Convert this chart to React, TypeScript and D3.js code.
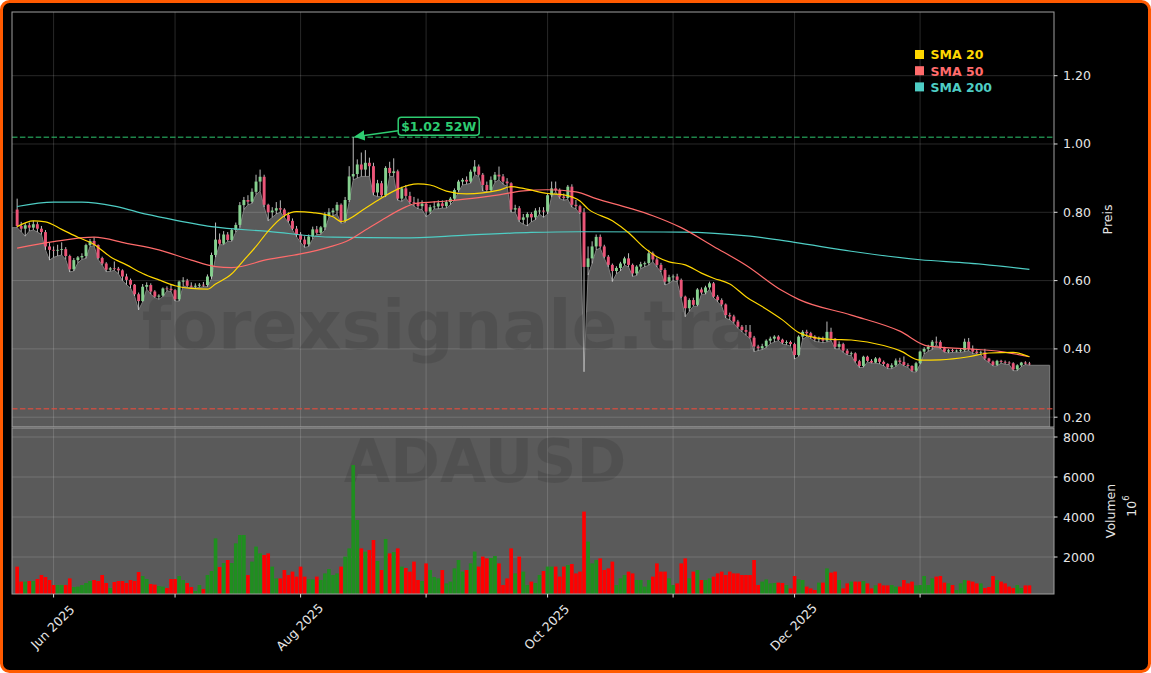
import React from "react";
import * as d3 from "d3";

// ---------- DATA ----------
const FIRST_DAY = Date.UTC(2025, 4, 23); // first daily candle
const FILL_END_DAY = Date.UTC(2026, 1, 2);
const X_START = Date.UTC(2025, 4, 21, 17, 30);
const X_END = Date.UTC(2026, 1, 3, 1, 40);

const OPEN = [
  .808,.760,.752,.762,.755,.765,.752,.742,.700,.690,
  .688,.690,.692,.672,.633,.660,.668,.672,.704,.716,
  .704,.666,.650,.632,.636,.635,.630,.612,.602,.588,
  .560,.540,.582,.587,.568,.553,.556,.577,.576,.572,
  .545,.597,.600,.585,.582,.585,.588,.587,.612,.675,
  .720,.708,.735,.719,.748,.763,.821,.836,.831,.860,
  .890,.904,.822,.800,.805,.812,.808,.792,.775,.752,
  .735,.720,.706,.729,.750,.740,.756,.792,.800,.805,
  .822,.775,.836,.905,.912,.940,.925,.945,.935,.858,
  .885,.850,.930,.915,.920,.840,.870,.848,.830,.828,
  .818,.825,.802,.815,.817,.826,.818,.830,.840,.865,
  .890,.895,.890,.919,.934,.910,.880,.865,.895,.910,
  .905,.890,.885,.808,.812,.778,.785,.795,.785,.805,
  .805,.802,.850,.870,.865,.846,.842,.875,.822,.818,
  .800,.640,.665,.700,.728,.700,.670,.646,.628,.637,
  .650,.665,.646,.621,.641,.648,.651,.680,.662,.646,
  .631,.597,.610,.612,.602,.553,.519,.543,.529,.574,
  .565,.580,.592,.553,.543,.530,.499,.495,.480,.465,
  .455,.450,.433,.407,.402,.408,.424,.430,.436,.427,
  .418,.420,.414,.382,.436,.450,.446,.436,.428,.430,
  .424,.450,.430,.406,.414,.395,.386,.387,.364,.350,
  .377,.365,.360,.372,.362,.356,.346,.352,.366,.362,
  .353,.350,.336,.358,.392,.400,.406,.421,.420,.402,
  .392,.396,.394,.395,.396,.421,.400,.392,.388,.390,
  .372,.363,.353,.365,.362,.360,.358,.340,.352,.360,
  .357,
];
const HIGH = [
  .840,.772,.768,.770,.775,.772,.760,.748,.712,.700,
  .705,.712,.698,.676,.666,.672,.680,.708,.722,.727,
  .706,.670,.654,.640,.656,.640,.633,.620,.606,.590,
  .565,.590,.595,.592,.572,.560,.580,.583,.588,.575,
  .600,.610,.605,.595,.592,.593,.596,.618,.682,.770,
  .738,.745,.742,.752,.770,.830,.845,.850,.870,.910,
  .925,.910,.825,.815,.830,.835,.812,.800,.782,.760,
  .742,.730,.735,.758,.760,.760,.800,.812,.812,.830,
  .826,.845,.935,1.020,.955,.975,.982,.960,.945,.895,
  .892,.935,.948,.958,.925,.875,.880,.860,.845,.840,
  .835,.830,.822,.832,.835,.835,.836,.845,.870,.895,
  .900,.905,.925,.953,.940,.915,.890,.905,.918,.934,
  .912,.900,.888,.822,.818,.795,.800,.800,.812,.815,
  .815,.856,.890,.890,.870,.855,.880,.882,.836,.822,
  .812,.700,.715,.735,.735,.705,.675,.650,.642,.655,
  .670,.680,.650,.645,.655,.656,.690,.685,.668,.652,
  .636,.617,.618,.620,.606,.556,.548,.550,.578,.580,
  .585,.597,.596,.558,.548,.533,.506,.500,.485,.470,
  .470,.470,.438,.412,.415,.428,.436,.440,.440,.430,
  .425,.424,.418,.440,.455,.456,.450,.440,.436,.436,
  .480,.462,.432,.422,.418,.400,.392,.390,.368,.380,
  .380,.370,.376,.375,.366,.358,.358,.372,.374,.378,
  .358,.352,.362,.395,.405,.412,.426,.436,.425,.406,
  .400,.400,.398,.400,.430,.432,.410,.400,.395,.400,
  .374,.366,.368,.368,.366,.364,.361,.355,.362,.364,
  .362,
];
const LOW = [
  .755,.743,.730,.745,.748,.742,.735,.690,.660,.668,
  .672,.675,.662,.625,.628,.652,.662,.665,.700,.702,
  .662,.645,.626,.627,.630,.620,.600,.588,.578,.555,
  .514,.538,.575,.560,.550,.545,.553,.570,.568,.540,
  .540,.585,.580,.580,.578,.580,.582,.582,.605,.668,
  .705,.705,.715,.715,.742,.755,.808,.822,.826,.852,
  .862,.815,.775,.785,.795,.800,.785,.770,.748,.728,
  .712,.697,.700,.722,.735,.735,.748,.785,.790,.795,
  .768,.770,.830,.895,.900,.905,.905,.905,.850,.846,
  .845,.845,.905,.905,.835,.832,.842,.825,.818,.810,
  .808,.787,.795,.810,.810,.812,.812,.822,.835,.860,
  .880,.882,.885,.910,.905,.862,.860,.860,.888,.895,
  .882,.876,.800,.800,.772,.765,.760,.772,.778,.795,
  .785,.795,.845,.860,.840,.835,.838,.815,.810,.795,
  .333,.616,.650,.690,.695,.665,.640,.597,.620,.628,
  .645,.640,.612,.615,.635,.640,.645,.655,.640,.625,
  .587,.592,.600,.596,.548,.494,.510,.525,.525,.560,
  .560,.575,.550,.538,.525,.490,.485,.475,.460,.450,
  .440,.430,.392,.395,.398,.404,.415,.420,.424,.414,
  .412,.408,.370,.378,.428,.436,.430,.422,.420,.418,
  .420,.425,.400,.400,.390,.382,.380,.360,.345,.346,
  .362,.358,.358,.356,.350,.342,.342,.348,.358,.350,
  .346,.333,.332,.355,.385,.393,.398,.412,.400,.390,
  .388,.390,.390,.390,.392,.395,.386,.385,.383,.368,
  .360,.350,.350,.358,.355,.354,.336,.336,.348,.354,
  .352,
];
const CLOSE = [
  .760,.752,.762,.755,.765,.752,.742,.700,.690,.688,
  .690,.692,.672,.633,.660,.668,.672,.704,.716,.704,
  .666,.650,.632,.636,.635,.630,.612,.602,.588,.560,
  .540,.582,.587,.568,.553,.556,.577,.576,.572,.545,
  .597,.600,.585,.582,.585,.588,.587,.612,.675,.720,
  .708,.735,.719,.748,.763,.821,.836,.831,.860,.890,
  .904,.822,.800,.805,.812,.808,.792,.775,.752,.735,
  .720,.706,.729,.750,.740,.756,.792,.800,.805,.822,
  .775,.836,.905,.912,.940,.925,.945,.935,.858,.885,
  .850,.930,.915,.920,.840,.870,.848,.830,.828,.818,
  .825,.802,.815,.817,.826,.818,.830,.840,.865,.890,
  .895,.890,.919,.934,.910,.880,.865,.895,.910,.905,
  .890,.885,.808,.812,.778,.785,.795,.785,.805,.805,
  .802,.850,.870,.865,.846,.842,.875,.822,.818,.800,
  .640,.665,.700,.728,.700,.670,.646,.628,.637,.650,
  .665,.646,.621,.641,.648,.651,.680,.662,.646,.631,
  .597,.610,.612,.602,.553,.519,.543,.529,.574,.565,
  .580,.592,.553,.543,.530,.499,.495,.480,.465,.455,
  .450,.433,.407,.402,.408,.424,.430,.436,.427,.418,
  .420,.414,.382,.436,.450,.446,.436,.428,.430,.424,
  .450,.430,.406,.414,.395,.386,.387,.364,.350,.377,
  .365,.360,.372,.362,.356,.346,.352,.366,.362,.353,
  .350,.336,.358,.392,.400,.406,.421,.420,.402,.392,
  .396,.394,.395,.396,.421,.400,.392,.388,.390,.372,
  .363,.353,.365,.362,.360,.358,.340,.352,.360,.357,
  .356,
];
// volume in millions
const VOLUME = [
  1517,770,770,800,800,900,1100,1000,850,600,
  600,600,600,930,500,520,600,700,800,850,
  800,1100,700,450,750,800,800,700,850,800,
  1250,1050,900,650,620,550,520,450,900,900,
  1050,850,700,500,300,600,400,1100,1300,2930,
  1500,1700,1850,1700,2680,3100,3100,1100,1770,2520,
  2180,2100,2180,1520,930,930,1350,1100,1270,1020,
  1520,1020,880,880,1020,850,1180,1400,1100,1180,
  1520,2020,2430,6600,3850,2430,2267,2350,2850,1800,
  1350,2900,2180,2250,2430,1520,1450,1267,1770,850,
  800,1680,1350,1000,930,1350,680,770,1430,1850,
  1270,1350,1680,2270,1520,2020,1930,1950,2050,1680,
  600,930,2430,1180,2020,1270,600,770,700,1100,
  1300,1520,1520,1520,1020,1520,1600,1650,1180,1270,
  4270,2770,1680,1850,1930,1350,1430,1770,600,930,
  1100,1270,1180,850,850,520,850,1020,1680,1270,
  1270,930,600,680,1680,1930,930,1270,1350,850,
  850,930,1020,1180,1270,1100,1270,1180,1180,1100,
  1100,1100,1850,600,770,880,680,700,720,700,
  600,430,1050,880,850,520,430,350,720,720,
  1430,1220,1270,850,430,680,770,770,770,800,
  680,430,580,680,580,580,600,520,520,850,
  680,770,580,600,1050,600,930,1020,1050,720,
  680,600,350,680,850,820,770,680,680,450,
  500,1050,850,770,680,520,450,600,450,580,
  580,
];

// moving averages (day offset from FIRST_DAY, value)
const SMA20_DAY = [0,4,7,11,15,19,23,27,31,35,39,43,47,49,53,56,59,62,66,69,73,78,80,86,90,94,99,102,106,111,115,119,122,125,131,135,139,141,147,151,155,158,161,165,169,172,176,180,184,189,193,197,201,206,214,218,223,228,235,240,246,250];
const SMA20_VAL = [.758,.775,.772,.750,.727,.706,.670,.646,.621,.602,.585,.577,.575,.590,.620,.660,.700,.745,.790,.802,.799,.787,.773,.812,.842,.868,.883,.880,.862,.854,.857,.865,.875,.870,.855,.851,.833,.810,.775,.740,.695,.670,.655,.646,.622,.607,.590,.553,.524,.485,.448,.433,.428,.426,.410,.395,.367,.368,.377,.388,.390,.377];
const SMA50_DAY = [0,9,19,27,35,43,49,53,62,70,77,82,86,90,96,98,106,114,119,125,131,138,143,151,157,164,172,180,189,193,206,218,225,235,243,250];
const SMA50_VAL = [.695,.714,.727,.709,.690,.660,.641,.638,.662,.678,.698,.719,.748,.777,.816,.825,.833,.843,.851,.863,.866,.860,.840,.813,.790,.755,.700,.645,.570,.545,.499,.452,.408,.400,.392,.377];
const SMA200_DAY = [0,9,16,24,30,37,48,62,78,95,111,127,139,164,181,192,206,223,235,250];
const SMA200_VAL = [.817,.830,.830,.818,.800,.782,.758,.744,.727,.725,.733,.741,.743,.742,.730,.712,.686,.661,.651,.633];

const SUPPORT_LEVEL = 0.2245;
const PRICE_TICKS = [0.2, 0.4, 0.6, 0.8, 1.0, 1.2];
const VOLUME_TICKS = [2000, 4000, 6000, 8000];
const LEGEND = [
  { label: "SMA 20", color: "#FFD700" },
  { label: "SMA 50", color: "#FF6B6B" },
  { label: "SMA 200", color: "#4ECDC4" },
];

// ---------- LAYOUT ----------
const W = 1151, H = 673;
const PL = 12, PR = 1054, PT = 12, PB = 427, VT = 428, VB = 594;
const FONT = "DejaVu Sans, sans-serif";
const DAY = 86400000;

export default function App() {
  const dates = CLOSE.map((_, i) => new Date(FIRST_DAY + i * DAY));
  const x = d3.scaleUtc().domain([new Date(X_START), new Date(X_END)]).range([PL, PR]);
  const y = d3.scaleLinear().domain([0.1713, 1.3865]).range([PB, PT]);
  const yv = d3.scaleLinear().domain([150, 8450]).range([VB, VT]);
  const dayW = x(new Date(FIRST_DAY + DAY)) - x(new Date(FIRST_DAY));
  const bodyW = dayW * 0.72;
  const volW = dayW * 0.9;

  const months = d3.utcMonth.range(new Date(Date.UTC(2025, 5, 1)), new Date(Date.UTC(2026, 1, 1)));
  const fmt = d3.utcFormat("%b %Y");

  const fillPts: [number, number][] = [
    [X_START, LOW[0]],
    ...LOW.map((v, i) => [FIRST_DAY + i * DAY, v] as [number, number]),
    [FILL_END_DAY, LOW[LOW.length - 1]],
  ];
  const area = d3.area<[number, number]>()
    .x((d) => x(new Date(d[0])))
    .y0(PB)
    .y1((d) => y(d[1]));

  const smaLine = d3.line<[number, number]>()
    .x((d) => x(new Date(FIRST_DAY + d[0] * DAY)))
    .y((d) => y(d[1]))
    .curve(d3.curveMonotoneX);
  const sma = (days: number[], vals: number[]) => smaLine(days.map((d, i) => [d, vals[i]]));

  const hiIdx = d3.maxIndex(HIGH);
  const hiVal = HIGH[hiIdx];
  const tipX = x(dates[hiIdx]);
  const tipY = y(hiVal);
  const boxX = tipX + 45, boxY = tipY - 20, boxW = 81, boxH = 18;

  return (
    <div style={{ position: "absolute", left: 0, top: 0 }}>
      <svg width={W} height={H} style={{ display: "block", fontFamily: FONT }}>
        <defs>
          <clipPath id="pclip"><rect x={PL} y={PT} width={PR - PL} height={PB - PT} /></clipPath>
          <clipPath id="vclip"><rect x={PL} y={VT} width={PR - PL} height={VB - VT} /></clipPath>
          <marker id="arr" viewBox="0 0 10 10" refX="9" refY="5" markerWidth="7" markerHeight="7" orient="auto-start-reverse">
            <path d="M0,0 L10,5 L0,10 z" fill="#2ecc71" />
          </marker>
        </defs>
        <rect x={0} y={0} width={W} height={H} fill="#ffffff" />
        <rect x={1.5} y={1.5} width={W - 3} height={H - 3} rx={8} fill="#000" stroke="#ff5a00" strokeWidth={3} />

        {/* ---- volume panel ---- */}
        <rect x={PL} y={VT} width={PR - PL} height={VB - VT} fill="#5a5a5a" />
        <g clipPath="url(#vclip)">
          {VOLUME_TICKS.map((t) => (
            <line key={t} x1={PL} x2={PR} y1={yv(t)} y2={yv(t)} stroke="#fff" strokeOpacity={0.2} strokeWidth={0.8} />
          ))}
          {months.map((m) => (
            <line key={+m} x1={x(m)} x2={x(m)} y1={VT} y2={VB} stroke="#fff" strokeOpacity={0.2} strokeWidth={0.8} />
          ))}
          <text x={485} y={482} textAnchor="middle" fontSize={60} fontWeight="bold" fill="#000" fillOpacity={0.1}>ADAUSD</text>
          {VOLUME.map((v, i) => (
            <rect key={i} x={x(dates[i]) - volW / 2} y={yv(v)} width={volW} height={yv(0) - yv(v)}
              fill={CLOSE[i] >= OPEN[i] ? "#1f8f1f" : "#ff0000"} />
          ))}
        </g>
        <rect x={PL} y={VT} width={PR - PL} height={VB - VT} fill="none" stroke="#a0a0a0" strokeWidth={1} />

        {/* ---- price panel ---- */}
        <g clipPath="url(#pclip)">
          <path d={area(fillPts) || ""} fill="#5a5a5a" stroke="#7c7c7c" strokeWidth={1} />
          {PRICE_TICKS.map((t) => (
            <line key={t} x1={PL} x2={PR} y1={y(t)} y2={y(t)} stroke="#fff" strokeOpacity={0.2} strokeWidth={0.8} />
          ))}
          {months.map((m) => (
            <line key={+m} x1={x(m)} x2={x(m)} y1={PT} y2={PB} stroke="#fff" strokeOpacity={0.2} strokeWidth={0.8} />
          ))}
          <text x={496} y={349} textAnchor="middle" fontSize={68} fontWeight="bold" fill="#000" fillOpacity={0.1}>forexsignale.trade</text>

          <line x1={PL} x2={PR} y1={y(hiVal)} y2={y(hiVal)} stroke="#2ecc71" strokeOpacity={0.65} strokeWidth={1.5} strokeDasharray="5.5,2.4" />
          <line x1={PL} x2={PR} y1={y(SUPPORT_LEVEL)} y2={y(SUPPORT_LEVEL)} stroke="#e74c3c" strokeOpacity={0.75} strokeWidth={1.5} strokeDasharray="5.5,2.4" />

          {dates.map((d, i) => {
            const cx = x(d);
            const up = CLOSE[i] >= OPEN[i];
            const top = y(Math.max(OPEN[i], CLOSE[i]));
            const bot = y(Math.min(OPEN[i], CLOSE[i]));
            return (
              <g key={i}>
                <line x1={cx} x2={cx} y1={y(HIGH[i])} y2={y(LOW[i])} stroke="#d0d0d0" strokeWidth={1} strokeOpacity={0.9} />
                <rect x={cx - bodyW / 2} y={top} width={bodyW} height={Math.max(0.8, bot - top)}
                  fill={up ? "#86d08f" : "#ea5578"} />
              </g>
            );
          })}

          <path d={sma(SMA200_DAY, SMA200_VAL) || ""} fill="none" stroke="#4ECDC4" strokeWidth={1.2} />
          <path d={sma(SMA50_DAY, SMA50_VAL) || ""} fill="none" stroke="#FF6B6B" strokeWidth={1.2} />
          <path d={sma(SMA20_DAY, SMA20_VAL) || ""} fill="none" stroke="#FFD700" strokeWidth={1.2} />
        </g>
        <rect x={PL} y={PT} width={PR - PL} height={PB - PT} fill="none" stroke="#a0a0a0" strokeWidth={1} />

        {/* annotation */}
        <line x1={boxX} y1={boxY + boxH * 0.75} x2={tipX + 2} y2={tipY - 0.5} stroke="#2ecc71" strokeWidth={1.5} markerEnd="url(#arr)" />
        <rect x={boxX} y={boxY} width={boxW} height={boxH} rx={3} fill="#000" stroke="#2ecc71" strokeWidth={1.5} />
        <text x={boxX + boxW / 2} y={boxY + boxH / 2} textAnchor="middle" dominantBaseline="central" fontSize={12.5} fontWeight="bold" fill="#2ecc71">
          {`$${hiVal.toFixed(2)} 52W`}
        </text>

        {/* legend */}
        {LEGEND.map((l, k) => (
          <g key={l.label} transform={`translate(915, ${50 + k * 16.2})`}>
            <rect x={0} y={0} width={9} height={9} fill={l.color} />
            <text x={15.5} y={4.8} dominantBaseline="central" fontSize={12.5} fontWeight="bold" fill={l.color}>{l.label}</text>
          </g>
        ))}

        {/* price axis right */}
        {PRICE_TICKS.map((t) => (
          <g key={t}>
            <line x1={PR} x2={PR + 3.5} y1={y(t)} y2={y(t)} stroke="#ddd" />
            <text x={PR + 9} y={y(t)} dominantBaseline="central" fontSize={12.5} fill="#e6e6e6">{t.toFixed(2)}</text>
          </g>
        ))}
        <text transform={`translate(1107, ${(PT + PB) / 2}) rotate(-90)`} textAnchor="middle" dominantBaseline="central" fontSize={12.5} fill="#e6e6e6">Preis</text>

        {/* volume axis right */}
        {VOLUME_TICKS.map((t) => (
          <g key={t}>
            <line x1={PR} x2={PR + 3.5} y1={yv(t)} y2={yv(t)} stroke="#ddd" />
            <text x={PR + 9} y={yv(t)} dominantBaseline="central" fontSize={12.5} fill="#e6e6e6">{t}</text>
          </g>
        ))}
        <text transform={`translate(1110, ${(VT + VB) / 2}) rotate(-90)`} textAnchor="middle" dominantBaseline="central" fontSize={12.5} fill="#e6e6e6">Volumen</text>
        <text transform={`translate(1131, ${(VT + VB) / 2 - 5}) rotate(-90)`} textAnchor="middle" dominantBaseline="central" fontSize={12.5} fill="#e6e6e6">
          10<tspan dy={-5} fontSize={8.5}>6</tspan>
        </text>

        {/* time axis */}
        {months.map((m, k) => (
          <g key={+m}>
            <line x1={x(m)} x2={x(m)} y1={VB} y2={VB + 3.5} stroke="#ddd" />
            {k % 2 === 0 && (
              <text transform={`translate(${x(m) - 1}, 627) rotate(-45)`} textAnchor="middle" dominantBaseline="central" fontSize={12.5} fill="#e6e6e6">
                {fmt(m)}
              </text>
            )}
          </g>
        ))}
      </svg>
    </div>
  );
}
